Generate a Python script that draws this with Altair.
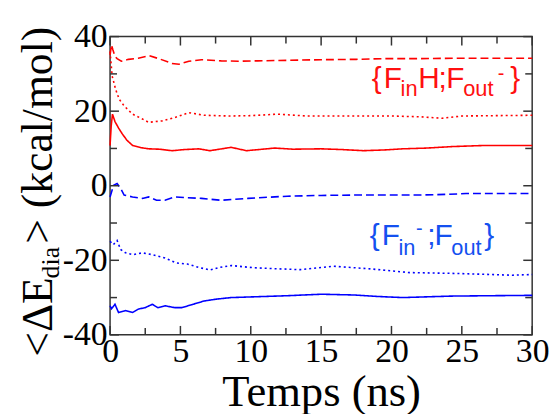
import altair as alt
import pandas as pd

# ---- data ----
t_red_dashed = [0, 0.1, 0.2, 0.35, 0.5, 0.8, 1.3, 2.0, 2.8, 3.6, 4.4, 4.9, 5.6, 6.5, 7.9, 9.1, 10.5, 12, 15, 17.5, 19.6, 22, 25, 27.5, 30]
e_red_dashed = [35.0, 37.8, 36.5, 34.7, 34.1, 33.4, 33.9, 34.2, 34.9, 33.9, 32.8, 32.6, 33.4, 33.8, 33.5, 33.4, 33.5, 33.6, 33.8, 33.9, 34.1, 34.1, 34.2, 34.2, 34.2]

t_red_dotted = [0, 0.15, 0.4, 0.65, 1.0, 1.6, 2.3, 2.75, 3.7, 4.6, 5.6, 6.7, 8.5, 10, 11.9, 14, 17, 20, 22, 23.6, 25, 27.5, 30]
e_red_dotted = [36.0, 29.4, 25.8, 23.2, 21.4, 19.2, 17.9, 17.0, 17.4, 18.3, 19.6, 18.9, 18.7, 18.8, 19.2, 18.7, 18.7, 18.7, 18.5, 18.1, 18.7, 18.8, 18.9]

t_red_solid = [0, 0.08, 0.17, 0.35, 0.6, 0.87, 1.2, 1.6, 2.2, 2.75, 3.5, 4.4, 5.3, 6.3, 7.1, 8.6, 9.7, 11.7, 13, 15, 16.5, 18, 19.5, 20.8, 22.5, 24.3, 26.6, 30]
e_red_solid = [10.8, 16.0, 19.2, 17.2, 15.5, 13.9, 12.2, 10.8, 10.2, 9.9, 9.8, 9.4, 9.7, 9.9, 9.4, 10.3, 9.4, 10.1, 9.8, 9.9, 9.7, 9.4, 9.6, 9.9, 10.1, 10.5, 10.8, 10.8]

t_blue_dashed = [0, 0.25, 0.5, 0.75, 1.0, 1.6, 2.3, 2.75, 3.3, 3.9, 4.6, 5.5, 6.5, 7.9, 9.8, 12.6, 15, 17.3, 20, 22, 24, 25.3, 27.5, 30]
e_blue_dashed = [-3.0, 0.1, 0.6, -0.7, -2.5, -3.0, -3.4, -3.0, -3.9, -3.9, -3.0, -3.2, -3.4, -3.9, -3.4, -2.8, -2.6, -2.5, -2.5, -2.5, -2.3, -2.1, -2.1, -2.1]

t_blue_dotted = [0, 0.23, 0.5, 0.75, 1.1, 1.6, 2.3, 3.0, 3.9, 4.7, 5.5, 6.3, 7.1, 7.8, 8.6, 10.2, 12, 13.5, 15.9, 18.5, 21.3, 24.3, 27, 28.6, 30]
e_blue_dotted = [-14.9, -15.8, -14.7, -17.1, -18.0, -18.5, -18.0, -18.5, -19.4, -20.7, -21.0, -21.9, -22.6, -21.9, -21.4, -22.0, -22.3, -22.5, -21.6, -22.3, -23.3, -23.5, -23.8, -24.0, -23.8]

t_blue_solid = [0, 0.1, 0.35, 0.6, 1.1, 1.6, 2.0, 2.5, 3.0, 3.4, 3.9, 4.6, 5.1, 5.9, 6.7, 7.6, 8.6, 10.2, 12.6, 15, 17.3, 19, 20.8, 22.5, 24.3, 27, 30]
e_blue_solid = [-32.2, -33.0, -31.8, -34.0, -33.5, -34.0, -33.1, -32.7, -31.8, -32.7, -32.2, -32.7, -32.7, -31.8, -30.9, -30.4, -30.0, -29.8, -29.5, -29.1, -29.3, -29.7, -30.0, -29.8, -29.6, -29.5, -29.4]

series_names = ["red_dashed", "red_dotted", "red_solid", "blue_dashed", "blue_dotted", "blue_solid"]
series_colors = ["#ff0000", "#ff0000", "#ff0000", "#0000ff", "#0000ff", "#0000ff"]
series_dashes = [[8, 4], [2, 3], [1, 0], [8, 4], [2, 3], [1, 0]]

x_major = [0, 5, 10, 15, 20, 25, 30]
x_minor = [2.5, 7.5, 12.5, 17.5, 22.5, 27.5]
y_major = [-40, -20, 0, 20, 40]
y_minor = [-30, -10, 10, 30]

# annotation pieces (text, time, energy, font size)
red_label = [("{", 18.6, 26.2, 30), ("F", 19.45, 26.2, 30), ("in", 20.65, 24.05, 22),
             ("H", 21.9, 26.2, 30), (";", 23.35, 26.2, 30), ("F", 23.9, 26.2, 30),
             ("out", 25.1, 24.05, 22), ("-", 27.55, 28.4, 20), ("}", 28.45, 26.2, 30)]
blue_label = [("{", 18.45, -15.8, 30), ("F", 19.3, -15.8, 30), ("in", 20.5, -18.5, 22),
              ("-", 21.75, -13.2, 20), (";", 22.55, -15.8, 30), ("F", 23.05, -15.8, 30),
              ("out", 24.25, -18.5, 22), ("}", 26.6, -15.8, 30)]

W, H = 426, 301

rows = []
for name, ts, es in zip(series_names,
                        [t_red_dashed, t_red_dotted, t_red_solid, t_blue_dashed, t_blue_dotted, t_blue_solid],
                        [e_red_dashed, e_red_dotted, e_red_solid, e_blue_dashed, e_blue_dotted, e_blue_solid]):
    for t, e in zip(ts, es):
        rows.append({"series": name, "t": t, "e": e})
df = pd.DataFrame(rows)

x_scale = alt.Scale(domain=[0, 30], nice=False, zero=False)
y_scale = alt.Scale(domain=[-40, 40], nice=False, zero=False)

x_axis = alt.Axis(
    values=x_major, tickSize=0, domain=False, grid=False,
    labelFont="Liberation Serif", labelFontSize=34, labelColor="black",
    labelPadding=0, labelFlush=False, labelOverlap=False,
    title="Temps (ns)", titleFont="Liberation Serif", titleFontSize=45,
    titleFontWeight="normal", titleColor="black", titlePadding=1)
y_axis = alt.Axis(
    values=y_major, tickSize=0, domain=False, grid=False,
    labelFont="Liberation Serif", labelFontSize=34, labelColor="black",
    labelPadding=3, labelFlush=False, labelOverlap=False,
    labelExpr="datum.value + ''", title=None)

lines = alt.Chart(df).mark_line(strokeWidth=1.6).encode(
    x=alt.X("t:Q", scale=x_scale, axis=x_axis),
    y=alt.Y("e:Q", scale=y_scale, axis=y_axis),
    color=alt.Color("series:N", scale=alt.Scale(domain=series_names, range=series_colors), legend=None),
    strokeDash=alt.StrokeDash("series:N", scale=alt.Scale(domain=series_names, range=series_dashes), legend=None),
    detail="series:N",
)

def tick_layer(values, side, length):
    d = pd.DataFrame({"v": values})
    base = alt.Chart(d).mark_rule(color="#333", strokeWidth=1.5)
    if side == "bottom":
        return base.encode(x=alt.X("v:Q", scale=x_scale, axis=x_axis), y=alt.value(H), y2=alt.value(H - length))
    if side == "top":
        return base.encode(x=alt.X("v:Q", scale=x_scale, axis=x_axis), y=alt.value(0), y2=alt.value(length))
    if side == "left":
        return base.encode(y=alt.Y("v:Q", scale=y_scale, axis=y_axis), x=alt.value(0), x2=alt.value(length))
    return base.encode(y=alt.Y("v:Q", scale=y_scale, axis=y_axis), x=alt.value(W), x2=alt.value(W - length))

ticks = []
for side in ["bottom", "top"]:
    ticks.append(tick_layer(x_major, side, 9))
    ticks.append(tick_layer(x_minor, side, 7))
for side in ["left", "right"]:
    ticks.append(tick_layer(y_major, side, 9))
    ticks.append(tick_layer(y_minor, side, 7))

def label_layer(pieces, color):
    d = pd.DataFrame(pieces, columns=["txt", "t", "e", "fs"])
    return alt.Chart(d).mark_text(align="left", baseline="alphabetic", font="Liberation Sans", color=color).encode(
        x=alt.X("t:Q", scale=x_scale, axis=x_axis),
        y=alt.Y("e:Q", scale=y_scale, axis=y_axis),
        text="txt:N",
        size=alt.Size("fs:Q", scale=None, legend=None),
    )

red_text = label_layer(red_label, "#ff1010")
blue_text = label_layer(blue_label, "#1450f0")

# y-axis title built from pieces (with subscript)
def ytitle(txt, px, py, fs):
    return alt.Chart(pd.DataFrame({"a": [0]})).mark_text(
        text=txt, angle=270, align="left", baseline="alphabetic",
        font="Liberation Serif", fontSize=fs, color="black"
    ).encode(x=alt.value(px), y=alt.value(py))

yt = [ytitle("<ΔE", -59, 323, 44), ytitle("dia", -52, 244, 26), ytitle("> (kcal/mol)", -59, 209, 44)]

chart = alt.layer(lines, *ticks, red_text, blue_text, *yt).properties(
    width=W, height=H,
    autosize=alt.AutoSizeParams(type="none"),
    padding={"left": 103, "top": 27, "right": 20, "bottom": 78},
).configure_view(stroke="#333", strokeWidth=1.5)

chart.save("out.html", embed_options={"renderer": "svg", "actions": False})
